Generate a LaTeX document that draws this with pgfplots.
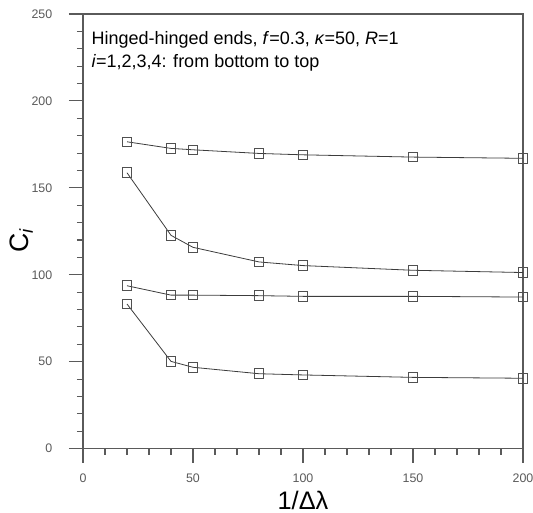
\documentclass[border=0pt]{standalone}
\usepackage{fontspec}
\setmainfont{Liberation Sans}
\usepackage{pgfplots}
\pgfplotsset{compat=1.18}
\definecolor{axgray}{HTML}{5A5A5A}
\definecolor{lngray}{HTML}{3C3C3C}
\definecolor{mkgray}{HTML}{505050}
\pgfplotsset{ser/.style={lngray, line width=0.6pt, mark=square, mark size=3.6pt,
        mark options={mkgray, fill=none, line width=0.7pt, solid}}}

\begin{document}
\begin{tikzpicture}
\begin{axis}[
    scale only axis,
    width=330pt, height=326pt,
    xmin=0, xmax=200, ymin=0, ymax=250,
    xtick={0,50,...,200}, ytick={0,50,...,250},
    minor x tick num=4, minor y tick num=4,
    tick align=outside,
    xtick pos=bottom, ytick pos=left,
    major tick length=10.5pt, minor tick length=4.5pt,
    axis line style={axgray, line width=0.8pt},
    every tick/.style={axgray, line width=0.8pt},
    every minor tick/.style={axgray, line width=0.8pt},
    tick label style={font=\fontsize{9.3}{10}\selectfont, text=axgray},
    /pgf/number format/assume math mode=true,
    xticklabel style={yshift=-5pt},
    yticklabel style={xshift=-9pt},
    xlabel={1/Δλ},
    ylabel={C\textsubscript{\textit{i}}},
    xlabel style={font=\fontsize{19}{22}\selectfont, at={(axis description cs:0.5,-0.118)}, anchor=center},
    ylabel style={font=\fontsize{20}{23}\selectfont, at={(axis description cs:-0.14,0.48)}, anchor=center},
    clip=false,
]
% i = 1
\addplot[ser] coordinates {(20,83.2) (40,50.2) (50,46.8) (80,43.1) (100,42.4) (150,41.0) (200,40.5)};
% i = 2
\addplot[ser] coordinates {(20,93.7) (40,88.3) (50,88.3) (80,88.0) (100,87.6) (150,87.6) (200,87.2)};
% i = 3
\addplot[ser] coordinates {(20,158.7) (40,122.7) (50,115.8) (80,107.4) (100,105.3) (150,102.6) (200,101.3)};
% i = 4
\addplot[ser] coordinates {(20,176.5) (40,172.7) (50,171.9) (80,169.8) (100,169.0) (150,167.7) (200,167.0)};

\node[anchor=base west, inner sep=0pt, font=\fontsize{13.5}{16}\selectfont]
    at (axis cs:3.8,232.4) {Hinged-hinged ends, \textit{f}=0.3, \textit{κ}=50, \textit{R}=1};
\node[anchor=base west, inner sep=0pt, font=\fontsize{13.5}{16}\selectfont]
    at (axis cs:3.8,219.2) {\textit{i}=1,2,3,4: from bottom to top};
\end{axis}
\pgfresetboundingbox
\path ([shift={(-62.25pt,-48pt)}]current axis.south west) rectangle ([shift={(7.5pt,10.5pt)}]current axis.north east);
\end{tikzpicture}
\end{document}
